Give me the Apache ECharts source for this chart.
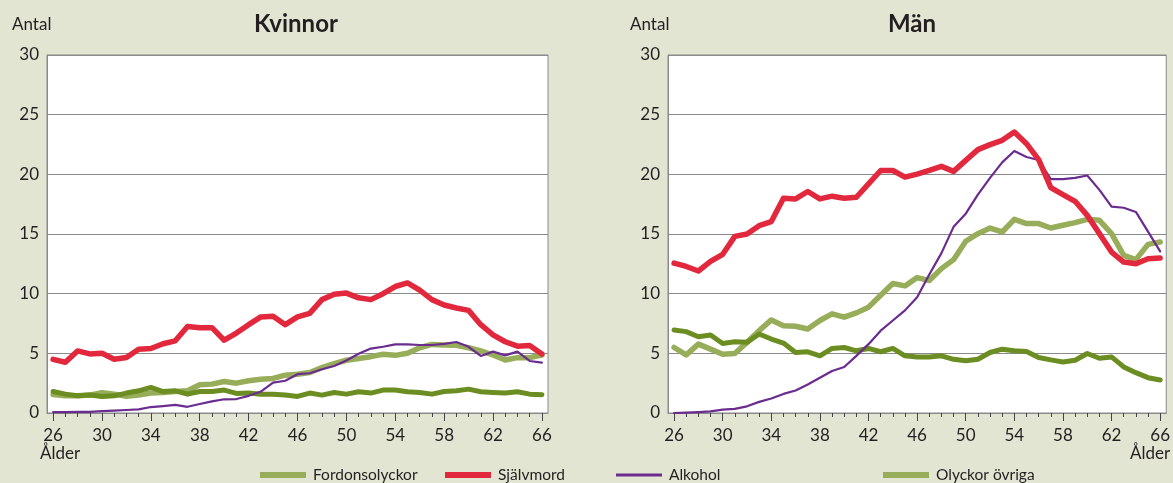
<!DOCTYPE html>
<html lang="sv">
<head>
<meta charset="UTF-8">
<title>Kvinnor och män</title>
<script src="https://cdn.jsdelivr.net/npm/echarts@6/dist/echarts.min.js"></script>
<style>
  html, body { margin: 0; padding: 0; background: #e2e5d2; }
  #main { width: 1173px; height: 483px; }
</style>
</head>
<body>
<div id="main"></div>
<script>
// ålder 26-66
var ages = ['26','27','28','29','30','31','32','33','34','35','36','37','38','39','40','41','42','43','44','45','46',
            '47','48','49','50','51','52','53','54','55','56','57','58','59','60','61','62','63','64','65','66'];
var yTicks = [0, 5, 10, 15, 20, 25, 30];

// Kvinnor
var kvFordon = [1.55,1.45,1.45,1.5,1.7,1.58,1.4,1.5,1.67,1.72,1.8,1.86,2.36,2.42,2.64,2.5,2.7,2.83,2.9,3.17,3.25,
                3.39,3.8,4.14,4.42,4.56,4.72,4.92,4.83,5.0,5.47,5.75,5.7,5.67,5.47,5.2,4.86,4.44,4.64,4.64,4.86];
var kvSjalvmord = [4.5,4.25,5.2,4.95,5.0,4.5,4.65,5.35,5.4,5.8,6.05,7.25,7.15,7.15,6.1,6.7,7.4,8.05,8.1,7.4,8.05,
                   8.35,9.5,9.95,10.05,9.65,9.5,10.0,10.6,10.9,10.3,9.5,9.05,8.8,8.6,7.4,6.55,5.97,5.6,5.65,4.95];
var kvAlkohol = [0.08,0.08,0.1,0.1,0.15,0.2,0.25,0.3,0.5,0.58,0.68,0.52,0.75,0.97,1.15,1.17,1.44,1.8,2.55,2.7,3.25,
                 3.33,3.67,3.94,4.4,4.97,5.4,5.55,5.75,5.75,5.7,5.7,5.8,5.95,5.55,4.78,5.14,4.83,5.14,4.36,4.22];
var kvOvriga = [1.8,1.58,1.44,1.5,1.39,1.44,1.67,1.86,2.14,1.8,1.86,1.58,1.8,1.8,1.92,1.64,1.67,1.58,1.58,1.5,1.39,
                1.67,1.5,1.72,1.58,1.78,1.67,1.92,1.92,1.78,1.72,1.58,1.8,1.86,2.0,1.78,1.72,1.67,1.78,1.58,1.53];

// Män
var manFordon = [5.49,4.87,5.77,5.35,4.93,4.99,5.92,6.9,7.8,7.32,7.27,7.04,7.75,8.31,8.03,8.39,8.87,9.86,10.85,10.65,11.35,
                 11.1,12.1,12.85,14.39,15.03,15.5,15.17,16.23,15.87,15.87,15.5,15.73,15.95,16.23,16.15,15.03,13.21,12.85,14.13,14.33];
var manSjalvmord = [12.56,12.28,11.9,12.7,13.3,14.8,15.0,15.7,16.04,18.0,17.94,18.56,17.94,18.17,18.0,18.08,19.2,20.32,20.32,19.77,20.02,
                    20.33,20.67,20.25,21.17,22.07,22.49,22.85,23.55,22.57,21.23,18.88,18.3,17.74,16.56,15.03,13.49,12.65,12.51,12.93,12.99];
var manAlkohol = [0.0,0.03,0.08,0.14,0.28,0.34,0.56,0.93,1.21,1.6,1.89,2.39,2.96,3.52,3.86,4.79,5.77,6.9,7.75,8.6,9.7,
                  11.6,13.4,15.6,16.7,18.3,19.7,21.0,21.96,21.45,21.2,19.6,19.6,19.7,19.9,18.7,17.3,17.2,16.85,15.2,13.55];
var manOvriga = [6.96,6.82,6.39,6.54,5.83,5.97,5.92,6.62,6.2,5.86,5.07,5.13,4.79,5.41,5.49,5.21,5.41,5.13,5.41,4.79,4.7,
                 4.7,4.79,4.5,4.37,4.5,5.07,5.35,5.21,5.15,4.65,4.45,4.28,4.42,4.99,4.59,4.7,3.86,3.38,2.96,2.76];

var cFordon = '#97ad5a', cSjalv = '#e2283c', cAlk = '#6a2c8f', cOvr = '#6b8d21';
var font = 'Lato, "Open Sans", sans-serif';
var txt = '#231f20';

var myChart = echarts.init(document.getElementById('main'));

function grid(left) {
    return {
        left: left, top: 55, width: 501, height: 358,
        show: true, backgroundColor: '#ffffff', borderColor: '#8a8a8a', borderWidth: 1
    };
}
function xMinor(gi) {
    return {
        type: 'category', gridIndex: gi, data: ages, boundaryGap: true,
        axisLine: { show: true, lineStyle: { color: '#8a8a8a', width: 1 } },
        axisTick: { show: true, interval: 0, alignWithLabel: true, length: 4, lineStyle: { color: '#444' } },
        axisLabel: { show: false },
        splitLine: { show: false }
    };
}
function xMajor(gi) {
    return {
        type: 'category', gridIndex: gi, data: ages, boundaryGap: true, position: 'bottom',
        axisLine: { show: false },
        axisTick: { show: true, interval: 3, alignWithLabel: true, length: 8, lineStyle: { color: '#444' } },
        axisLabel: { show: true, interval: 3, margin: 14, color: txt, fontSize: 17, fontFamily: font },
        splitLine: { show: false }
    };
}
function yAx(gi) {
    return {
        type: 'value', gridIndex: gi, min: yTicks[0], max: yTicks[yTicks.length - 1], interval: 5,
        axisLine: { show: true, lineStyle: { color: '#8a8a8a' } },
        axisTick: { show: false },
        axisLabel: { color: txt, fontSize: 17, fontFamily: font, margin: 8 },
        splitLine: { show: true, lineStyle: { color: '#8a8a8a', width: 1 } }
    };
}
function line(name, data, color, width, xi, yi) {
    return {
        name: name, type: 'line', data: data, xAxisIndex: xi, yAxisIndex: yi,
        symbol: 'none', smooth: false, animation: false,
        lineStyle: { color: color, width: width, join: 'round', cap: 'round' },
        itemStyle: { color: color }
    };
}
function leg(name, left, color, h) {
    return {
        left: left, top: 462, icon: 'rect', itemWidth: 46, itemHeight: h, itemGap: 0,
        textStyle: { color: txt, fontSize: 15.5, fontFamily: font, padding: [0, 0, 0, 2] },
        data: [{ name: name, itemStyle: { color: color } }],
        selectedMode: false
    };
}

var option = {
    backgroundColor: '#e2e5d2',
    animation: false,
    grid: [grid(47), grid(668)],
    xAxis: [xMinor(0), xMajor(0), xMinor(1), xMajor(1)],
    yAxis: [yAx(0), yAx(1)],
    legend: [
        leg('Fordonsolyckor', 255, cFordon, 6),
        leg('Självmord', 440, cSjalv, 6),
        leg('Alkohol', 611, cAlk, 3),
        leg('Olyckor övriga', 878, cFordon, 6)
    ],
    graphic: [
        { type: 'text', left: 12, top: 16, style: { text: 'Antal', fill: txt, font: '17px ' + font } },
        { type: 'text', left: 630, top: 16, style: { text: 'Antal', fill: txt, font: '17px ' + font } },
        { type: 'text', x: 296, y: 24, style: { text: 'Kvinnor', fill: txt, font: 'bold 24px ' + font, align: 'center', verticalAlign: 'middle' } },
        { type: 'text', x: 912, y: 24, style: { text: 'Män', fill: txt, font: 'bold 24px ' + font, align: 'center', verticalAlign: 'middle' } },
        { type: 'text', left: 40, top: 445, style: { text: 'Ålder', fill: txt, font: '17px ' + font } },
        { type: 'text', left: 1130, top: 445, style: { text: 'Ålder', fill: txt, font: '17px ' + font } }
    ],
    series: [
        line('Fordonsolyckor', kvFordon, cFordon, 5.5, 0, 0),
        line('Olyckor övriga', kvOvriga, cOvr, 5, 0, 0),
        line('Alkohol', kvAlkohol, cAlk, 2.2, 0, 0),
        line('Självmord', kvSjalvmord, cSjalv, 5.5, 0, 0),
        line('Fordonsolyckor', manFordon, cFordon, 5.5, 2, 1),
        line('Olyckor övriga', manOvriga, cOvr, 5, 2, 1),
        line('Alkohol', manAlkohol, cAlk, 2.2, 2, 1),
        line('Självmord', manSjalvmord, cSjalv, 5.5, 2, 1)
    ]
};
myChart.setOption(option);
</script>
</body>
</html>
